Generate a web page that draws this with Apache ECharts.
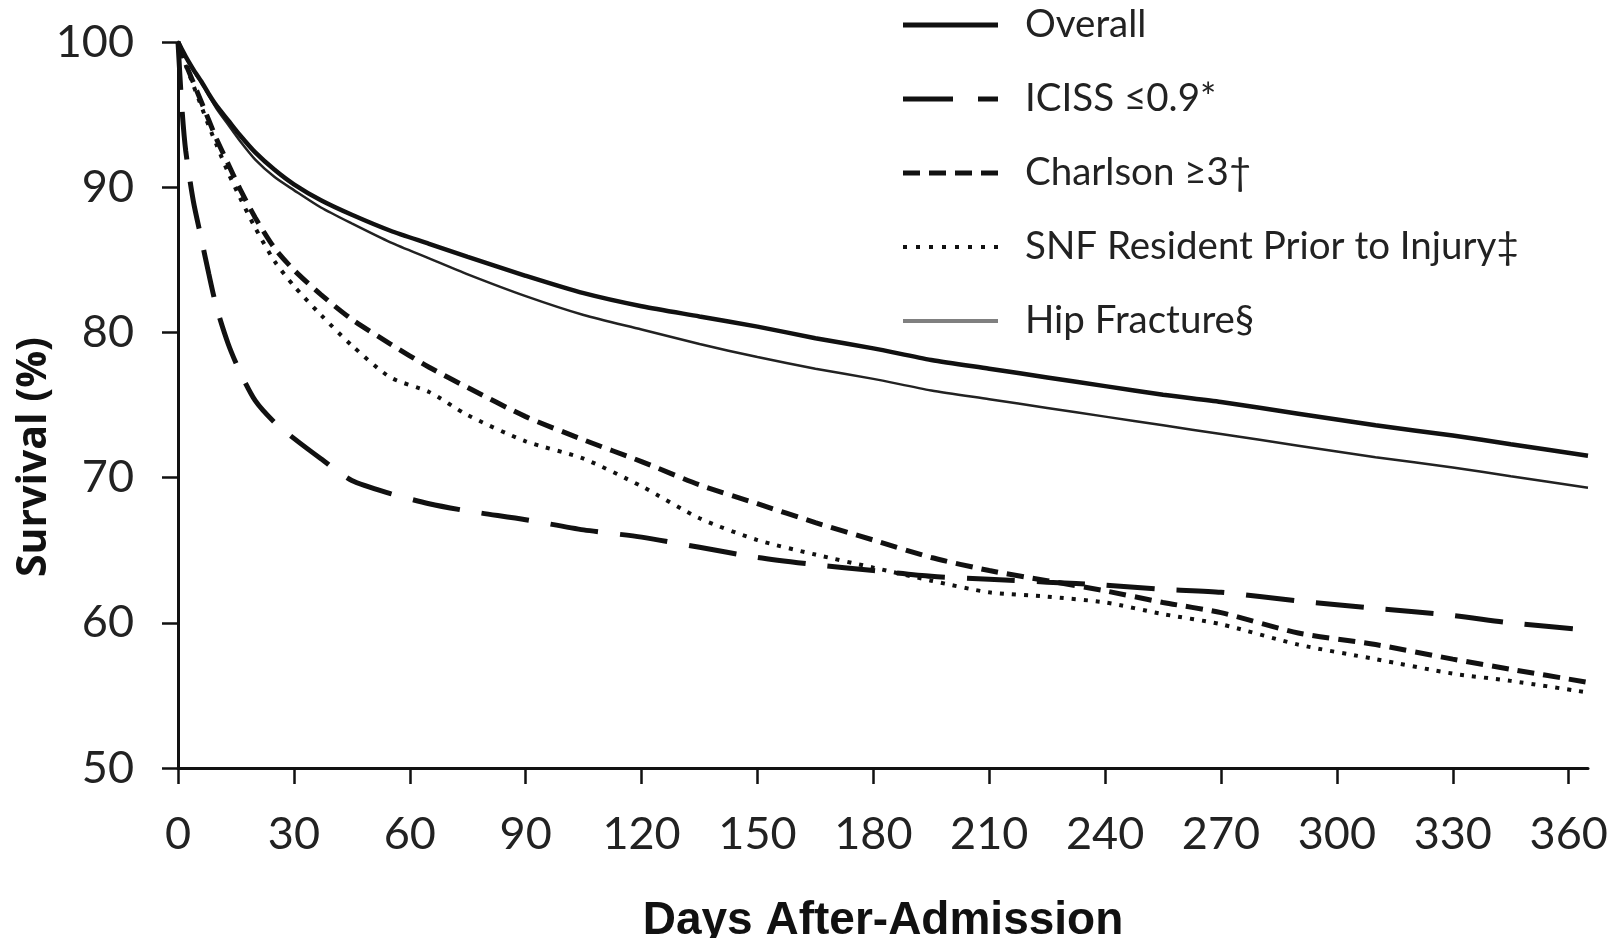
<!DOCTYPE html>
<html>
<head>
<meta charset="utf-8">
<script src="https://cdn.jsdelivr.net/npm/echarts@6/dist/echarts.min.js"></script>
<style>
html,body{margin:0;padding:0;background:#fff;}
#chart{width:1620px;height:938px;}
</style>
</head>
<body>
<div id="chart"></div>
<script>
const days = [0, 1, 2, 4, 6, 8, 10, 13, 16, 20, 25, 30, 37, 45, 55, 65, 75, 90, 105, 120, 135, 150, 165, 180, 195, 210, 225, 240, 255, 270, 290, 310, 330, 345, 365];
const xTicks = [0, 30, 60, 90, 120, 150, 180, 210, 240, 270, 300, 330, 360];
const seriesNames = ['Overall', 'ICISS ≤0.9*', 'Charlson ≥3†', 'SNF Resident Prior to Injury‡', 'Hip Fracture§'];
const overall  = [100, 99.5, 99.0, 98.1, 97.3, 96.4, 95.6, 94.6, 93.6, 92.4, 91.2, 90.2, 89.1, 88.1, 87.0, 86.1, 85.2, 83.9, 82.7, 81.8, 81.1, 80.4, 79.6, 78.9, 78.1, 77.5, 76.9, 76.3, 75.7, 75.2, 74.4, 73.6, 72.9, 72.3, 71.5];
const iciss    = [100, 95.5, 92.5, 89.0, 86.5, 84.0, 81.7, 79.2, 77.3, 75.3, 73.8, 72.7, 71.3, 69.8, 68.9, 68.2, 67.7, 67.1, 66.4, 65.9, 65.2, 64.5, 64.0, 63.6, 63.2, 63.0, 62.8, 62.6, 62.3, 62.1, 61.5, 61.0, 60.5, 60.0, 59.5];
const charlson = [100, 99.3, 98.5, 97.2, 95.9, 94.6, 93.3, 91.6, 89.9, 87.9, 85.8, 84.3, 82.6, 80.9, 79.2, 77.6, 76.2, 74.2, 72.6, 71.1, 69.5, 68.2, 66.9, 65.7, 64.5, 63.6, 62.9, 62.2, 61.4, 60.7, 59.3, 58.5, 57.5, 56.8, 55.9];
const snf      = [100, 99.2, 98.4, 97.0, 95.6, 94.2, 92.9, 91.0, 89.3, 87.2, 84.9, 83.2, 81.2, 79.1, 76.9, 75.9, 74.3, 72.5, 71.3, 69.4, 67.2, 65.7, 64.7, 63.8, 62.9, 62.1, 61.8, 61.4, 60.6, 59.9, 58.5, 57.5, 56.5, 56.0, 55.2];
const hip      = [100, 99.5, 99.0, 98.0, 97.2, 96.3, 95.4, 94.3, 93.2, 91.9, 90.7, 89.8, 88.6, 87.5, 86.2, 85.1, 84.0, 82.5, 81.2, 80.2, 79.2, 78.3, 77.5, 76.8, 76.0, 75.4, 74.8, 74.2, 73.6, 73.0, 72.2, 71.4, 70.7, 70.1, 69.3];

const pair = arr => days.map((d, i) => [d, arr[i]]);
const styles = [
  {width: 4.5, type: 'solid', color: '#111'},
  {width: 5, type: [48, 22], color: '#111'},
  {width: 5, type: [17, 9], color: '#111'},
  {width: 4, type: [4, 8], color: '#111'},
  {width: 2.5, type: 'solid', color: '#222'}
];
const legendIcons = [
  'path://M0,0h95v5h-95z',
  'path://M0,0h50v5h-50z M75,0h20v5h-20z',
  'path://M0,0h17v5h-17z M26,0h17v5h-17z M52,0h17v5h-17z M78,0h17v5h-17z',
  'path://M0,0.5h4v4h-4z M13,0.5h4v4h-4z M26,0.5h4v4h-4z M39,0.5h4v4h-4z M52,0.5h4v4h-4z M65,0.5h4v4h-4z M78,0.5h4v4h-4z M91,0.5h4v4h-4z M0,0h0.01v5h-0.01z',
  'path://M0,0.5h95v4h-95z M0,0h0.01v5h-0.01z'
];
const legendColors = ['#111', '#111', '#111', '#111', '#808080'];
const values = [overall, iciss, charlson, snf, hip];

const chart = echarts.init(document.getElementById('chart'), null, {renderer: 'canvas'});
chart.setOption({
  backgroundColor: '#fff',
  animation: false,
  grid: {left: 178, right: 32, top: 42, bottom: 170, containLabel: false, outerBoundsMode: 'none'},
  legend: {
    orient: 'vertical',
    left: 898,
    top: 0,
    itemWidth: 95,
    itemHeight: 5,
    itemGap: 34,
    itemStyle: {borderWidth: 0},
    textStyle: {fontFamily: 'Lato', fontSize: 38.5, color: '#222', lineHeight: 40, padding: [0, 0, 0, 22]},
    data: seriesNames.map((n, i) => ({name: n, icon: legendIcons[i], itemStyle: {color: legendColors[i], borderWidth: 0}}))
  },
  graphic: [{
    type: 'text',
    x: 34, y: 457,
    rotation: Math.PI / 2,
    style: {
      text: 'Survival (%)',
      font: 'bold 41px "Open Sans"',
      fill: '#111',
      align: 'center',
      verticalAlign: 'middle'
    }
  }],
  xAxis: {
    type: 'value', min: 0, max: 365, interval: 30,
    name: 'Days After-Admission', nameLocation: 'middle', nameGap: 130,
    nameTextStyle: {fontFamily: 'Liberation Sans', fontWeight: 'bold', fontSize: 46, color: '#111'},
    axisLine: {show: true, lineStyle: {color: '#111', width: 3}},
    axisTick: {show: true, length: 16, lineStyle: {color: '#111', width: 2.5}, customValues: xTicks},
    axisLabel: {fontFamily: 'Lato', fontSize: 45, color: '#222', margin: 44, customValues: xTicks},
    splitLine: {show: false}
  },
  yAxis: {
    type: 'value', min: 50, max: 100, interval: 10,
    axisLine: {show: true, lineStyle: {color: '#111', width: 3}},
    axisTick: {show: true, length: 16, lineStyle: {color: '#111', width: 2.5}},
    axisLabel: {fontFamily: 'Lato', fontSize: 45, color: '#222', margin: 44},
    splitLine: {show: false}
  },
  series: seriesNames.map((n, i) => ({
    name: n, type: 'line', data: pair(values[i]), showSymbol: false, symbol: 'none',
    smooth: 0.25, z: 5 - i,
    lineStyle: styles[i], itemStyle: {color: styles[i].color}
  }))
});
</script>
</body>
</html>
